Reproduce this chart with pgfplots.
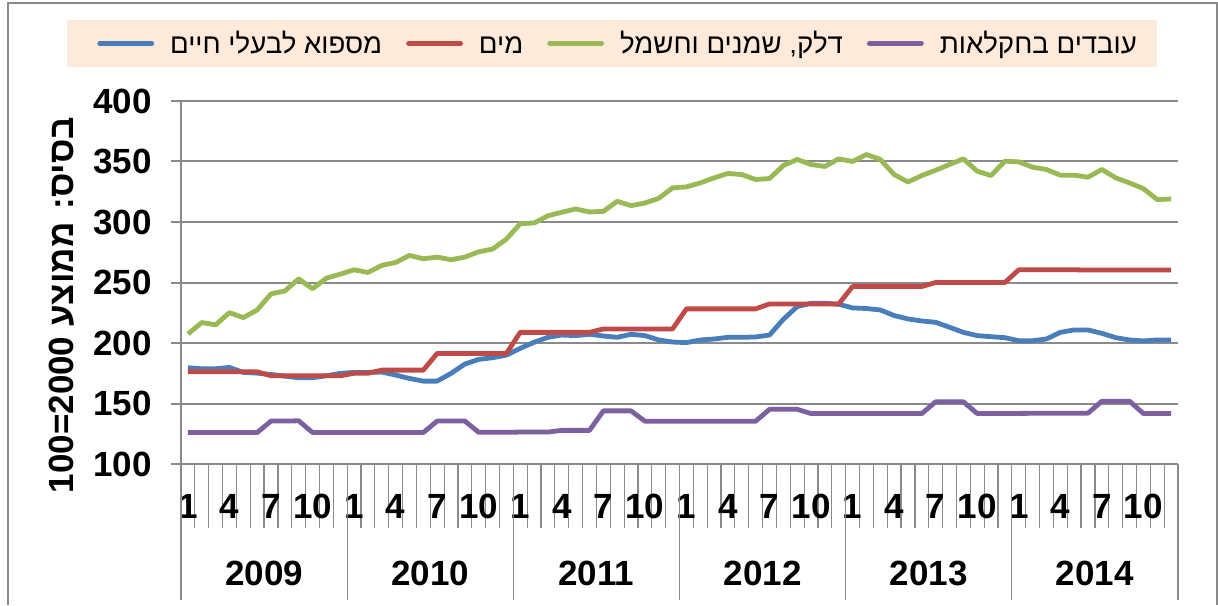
\documentclass[border=0pt]{standalone}
\usepackage{pgfplots}
\pgfplotsset{compat=1.18}
\usepackage{pgfplotstable}
\usepackage{fontspec}
\setmainfont{Liberation Sans}
\newfontfamily\heb[Script=Hebrew]{Liberation Sans}
\TeXXeTstate=1
\definecolor{sblue}{HTML}{4A7EBB}
\definecolor{sred}{HTML}{BE4B48}
\definecolor{sgreen}{HTML}{98B954}
\definecolor{spurple}{HTML}{7D60A0}
\definecolor{gridgray}{HTML}{8A8A8A}
\definecolor{peach}{HTML}{FDEADA}

\pgfplotstableread{
i blue red green purple
0 179.6 176.2 207.5 126.0
1 178.7 176.2 216.9 126.0
2 178.7 176.2 215.0 126.0
3 179.8 176.2 225.1 126.0
4 175.7 176.2 221.0 126.0
5 175.1 176.2 227.3 126.0
6 174.0 172.9 240.6 135.5
7 172.6 172.9 243.0 135.5
8 171.3 172.9 253.0 135.7
9 171.3 172.9 244.8 126.0
10 172.9 172.9 253.6 126.0
11 174.9 172.9 256.9 126.0
12 175.7 175.0 260.5 126.0
13 175.7 175.0 258.3 126.0
14 176.0 177.6 264.1 126.0
15 173.5 177.6 266.6 126.0
16 170.7 177.6 272.4 126.0
17 168.5 177.6 269.6 126.0
18 168.5 191.4 271.0 135.5
19 174.9 191.4 268.8 135.5
20 182.6 191.4 271.0 135.5
21 186.5 191.4 275.4 126.2
22 187.8 191.4 277.6 126.2
23 190.0 191.4 285.9 126.2
24 195.6 208.8 298.6 126.4
25 200.6 208.8 299.2 126.4
26 204.7 208.8 305.2 126.4
27 206.6 208.8 308.0 127.8
28 206.1 208.8 310.8 127.8
29 207.2 208.8 308.3 127.8
30 205.8 211.6 308.8 143.9
31 204.7 211.6 317.1 143.9
32 207.2 211.6 313.5 143.9
33 206.1 211.6 315.7 135.4
34 202.5 211.6 319.6 135.4
35 200.8 211.6 328.2 135.4
36 200.3 228.2 329.0 135.4
37 202.5 228.2 332.3 135.4
38 203.3 228.2 336.5 135.4
39 204.7 228.2 340.1 135.4
40 204.7 228.2 339.2 135.4
41 205.0 228.2 335.1 135.4
42 206.6 232.3 335.9 145.2
43 219.6 232.3 346.7 145.2
44 230.1 232.3 351.7 145.2
45 232.9 232.3 347.5 141.7
46 232.9 232.3 345.9 141.7
47 232.0 232.3 352.2 141.7
48 229.0 246.7 350.0 141.7
49 228.5 246.7 355.8 141.7
50 227.3 246.7 351.7 141.7
51 222.7 246.7 339.2 141.7
52 219.9 246.7 333.1 141.7
53 218.2 246.7 338.4 141.7
54 217.1 250.0 342.8 151.4
55 213.0 250.0 347.5 151.4
56 208.8 250.0 352.2 151.4
57 206.1 250.0 342.0 141.7
58 205.2 250.0 338.4 141.7
59 204.4 250.0 350.3 141.8
60 201.9 260.5 349.7 141.8
61 201.9 260.5 345.3 141.9
62 203.3 260.5 343.4 141.9
63 208.8 260.5 338.7 141.9
64 210.8 260.5 338.7 141.9
65 210.8 260.3 337.0 142.0
66 208.0 260.3 343.4 151.9
67 204.4 260.3 336.5 151.9
68 202.5 260.3 332.3 151.9
69 201.7 260.3 327.6 141.7
70 202.5 260.3 318.5 141.7
71 202.5 260.3 319.1 141.7
}\datatable

\begin{document}
\begin{tikzpicture}
\useasboundingbox (0,0) rectangle (609pt,302.5pt);
\draw[line width=1pt, color=gridgray] (4pt,0pt) -- (4pt,301.2pt) -- (608.3pt,301.2pt) -- (608.3pt,0pt);
\fill[peach] (33.5pt,269pt) rectangle (578.5pt,292.5pt);
\begin{axis}[
  scale only axis,
  width=498.5pt, height=181.5pt,
  at={(90.5pt,70.5pt)}, anchor=south west,
  xmin=-0.5, xmax=71.5,
  ymin=100, ymax=400,
  ytick={100,150,...,400},
  xtick={0,3,...,69},
  xticklabels={1,4,7,10,1,4,7,10,1,4,7,10,1,4,7,10,1,4,7,10,1,4,7,10},
  minor xtick={-0.5,0.5,...,71.5},
  major tick length=5pt,
  minor tick length=32pt,
  major x tick style={draw=none},
  minor x tick style={line width=0.6pt, color=gridgray},
  xticklabel style={yshift=-6.5pt},
  axis x line=bottom, axis y line=left,
  axis line style={-, line width=1pt, color=gridgray},
  tick align=outside,
  y tick style={line width=1pt, color=gridgray},
  ymajorgrids=true, xmajorgrids=false, xminorgrids=false,
  grid style={line width=1pt, color=gridgray},
  tick label style={font=\bfseries\fontsize{17.5}{20}\selectfont},
  /pgf/number format/assume math mode=true,
  yticklabel style={xshift=-6pt},
  clip=false,
  legend columns=4,
  legend style={at={(-0.0843,1.1584)}, anchor=west, draw=none, fill=none,
     inner sep=0pt,
     font=\heb\fontsize{13.8}{17}\selectfont,
     /tikz/every odd column/.append style={column sep=6pt},
     /tikz/every even column/.append style={column sep=10pt}},
  legend image code/.code={\draw[#1, line cap=round] (0pt,0pt) -- (26pt,0pt);},
]
\addplot[sblue, line width=2.4pt, line join=round] table[x=i, y=blue] {\datatable};
\addlegendentry{\strut\beginR מספוא לבעלי חיים\endR}
\addplot[sred, line width=2.4pt, line join=round] table[x=i, y=red] {\datatable};
\addlegendentry{\strut\beginR מים\endR}
\addplot[sgreen, line width=2.4pt, line join=round] table[x=i, y=green] {\datatable};
\addlegendentry{\strut\beginR דלק, שמנים וחשמל\endR}
\addplot[spurple, line width=2.4pt, line join=round] table[x=i, y=purple] {\datatable};
\addlegendentry{\strut\beginR עובדים בחקלאות\endR}
\foreach \k in {0,...,6} {
  \edef\temp{\noexpand\draw[line width=0.6pt, color=gridgray] (axis cs:{\k*12-0.5},100) -- ++(0pt,-68pt);}
  \temp
}
\foreach \y/\k in {2009/0,2010/1,2011/2,2012/3,2013/4,2014/5} {
  \edef\temp{\noexpand\node[font=\noexpand\bfseries\noexpand\fontsize{17.5}{20}\noexpand\selectfont, yshift=-54.5pt] at (axis cs:{\k*12+5.5},100) {\y};}
  \temp
}
\end{axis}
\node[rotate=90, font=\heb\bfseries\fontsize{17.5}{20}\selectfont] at (31pt,150pt) {\beginR בסיס: ממוצע \beginL{\rmfamily\bfseries 100=2000}\endL\endR};
\end{tikzpicture}
\end{document}
